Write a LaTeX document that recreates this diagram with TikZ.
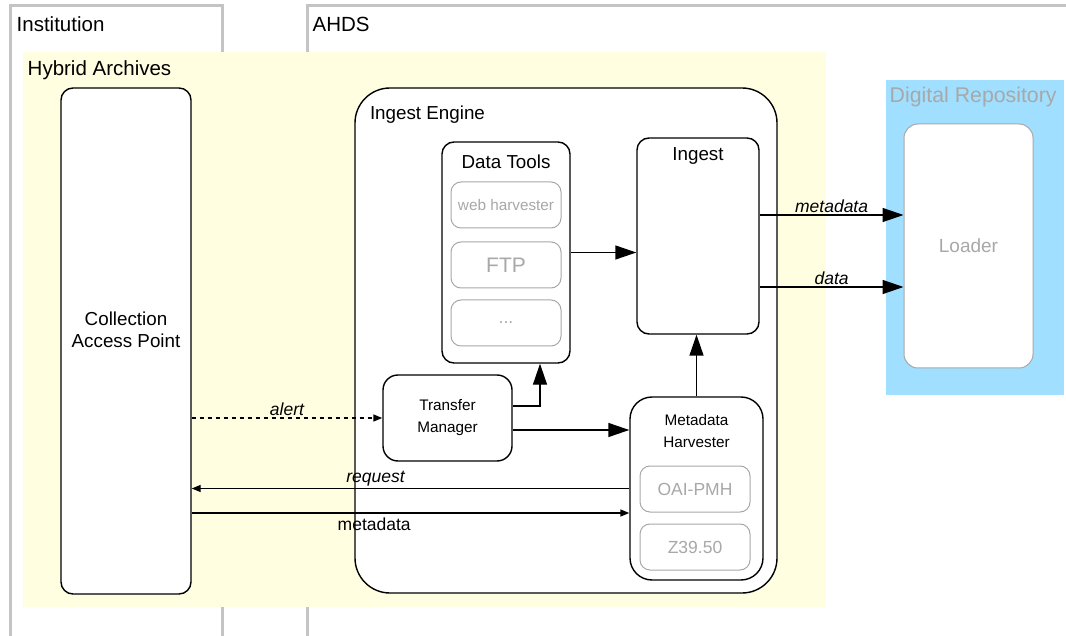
\documentclass[tikz,border=0pt]{standalone}
\usepackage{fontspec}
\setmainfont{Liberation Sans}
\usetikzlibrary{arrows.meta}
\definecolor{lanegray}{HTML}{C4C4C4}
\definecolor{hybridyellow}{HTML}{FFFEE0}
\definecolor{repoblue}{HTML}{A0DFFF}
\definecolor{toolgray}{HTML}{A8A8A8}

\begin{document}
\begin{tikzpicture}[x=1pt, y=-1pt, line width=1.4pt,
		font=\fontsize{18.8}{22}\selectfont,
		box/.style={draw, fill=white, inner sep=0pt},
		tool/.style={draw=toolgray, line width=1pt, fill=white, rounded corners=10pt, text=toolgray, inner sep=0pt, minimum width=110pt, minimum height=46pt, font=\fontsize{17.5}{22}\selectfont},
		lane/.style={draw=lanegray, line width=3pt},
		lanetext/.style={anchor=west, inner sep=0pt, font=\fontsize{20.5}{24}\selectfont},
		narrow/.style={font=\fontsize{15.3}{22}\selectfont},
		flow/.style={font=\fontsize{17.5}{22}\selectfont\itshape, inner sep=2pt},
		big/.style={-{Triangle[length=21pt, width=14pt]}},
		small/.style={-{Triangle[length=9pt, width=7pt]}}]
	\useasboundingbox (0,0) rectangle (1066,636);

	\draw[lane] (10,636) -- (10,6) -- (222,6) -- (222,636);
	\node[lanetext] (inst) at (16,24) {Institution};
	\draw[lane] (307,636) -- (307,6) -- (1066,6);
	\node[lanetext] (ahds) at (312,24) {AHDS};

	\fill[hybridyellow] (23,52) rectangle (826,607);
	\node[lanetext] (hybrid) at (27,70) {Hybrid Archives};
	\fill[repoblue] (886,80) rectangle (1064,395);
	\node[anchor=west, inner sep=0pt, text=toolgray, font=\fontsize{21.3}{24}\selectfont] (repo) at (889,97) {Digital Repository};

	\node[box, rounded corners=12pt, minimum width=130pt, minimum height=506pt,
		label={[align=center, yshift=11pt]center:Collection\\Access Point}] (cap) at (126,341) {};
	\node[box, rounded corners=35pt, minimum width=422pt, minimum height=505pt,
		label={[anchor=west, inner sep=0pt, xshift=15pt, yshift=-27pt]north west:Ingest Engine}] (engine) at (566,340.5) {};

	\node[box, rounded corners=12pt, minimum width=128pt, minimum height=221pt,
		label={[anchor=center, yshift=-20pt]north:Data Tools}] (tools) at (506,252.5) {};
	\node[tool, narrow] (web) at (506,205) {web harvester};
	\node[tool, font=\fontsize{21}{24}\selectfont] (ftp) at (506,265) {FTP};
	\node[tool] (more) at (506,323) {...};

	\node[box, rounded corners=12pt, minimum width=122pt, minimum height=196pt,
		label={[anchor=center, yshift=-19pt]north:Ingest}] (ingest) at (698,236) {};
	\node[box, rounded corners=15pt, minimum width=129pt, minimum height=86pt, narrow, align=center] (tm) at (447.5,418) {Transfer\\Manager};
	\node[box, rounded corners=22pt, minimum width=133pt, minimum height=183pt,
		label={[anchor=center, yshift=-35pt, narrow, align=center]north:Metadata\\Harvester}] (mh) at (696.5,488.5) {};
	\node[tool] (oai) at (695,489) {OAI-PMH};
	\node[tool] (z39) at (695,547) {Z39.50};

	\node[draw=toolgray, line width=1pt, fill=white, rounded corners=14pt, minimum width=129pt, minimum height=244pt, text=toolgray, font=\fontsize{19}{22}\selectfont] (loader) at (968.5,246) {Loader};

	\draw[big] (tools.east) -- (tools.east -| ingest.west);
	\draw[big] ([yshift=21pt]ingest.east) coordinate (m) -- (m -| loader.west) node[midway, above, flow] {metadata};
	\draw[big] ([yshift=-51pt]ingest.east) coordinate (d) -- (d -| loader.west) node[midway, above, flow] {data};
	\draw[big] (mh.north) -- (mh.north |- ingest.south);
	\draw[big] ([yshift=12pt]tm.east) -| ([xshift=34pt]tools.south);
	\draw[big] ([yshift=-12pt]tm.east) coordinate (t) -- (t -| mh.west);

	\draw[small, dash pattern=on 4pt off 4pt] (cap.east |- tm.west) -- (tm.west) node[midway, above, flow] {alert};
	\draw[small] (mh.west) -- (mh.west -| cap.east) node[pos=0.58, above, flow] {request};
	\coordinate (h) at ([yshift=-24.5pt]mh.west);
	\draw[small] (h -| cap.east) -- (h) node[pos=0.417, below, inner sep=4pt, font=\fontsize{17.5}{22}\selectfont] {metadata};
\end{tikzpicture}
\end{document}
